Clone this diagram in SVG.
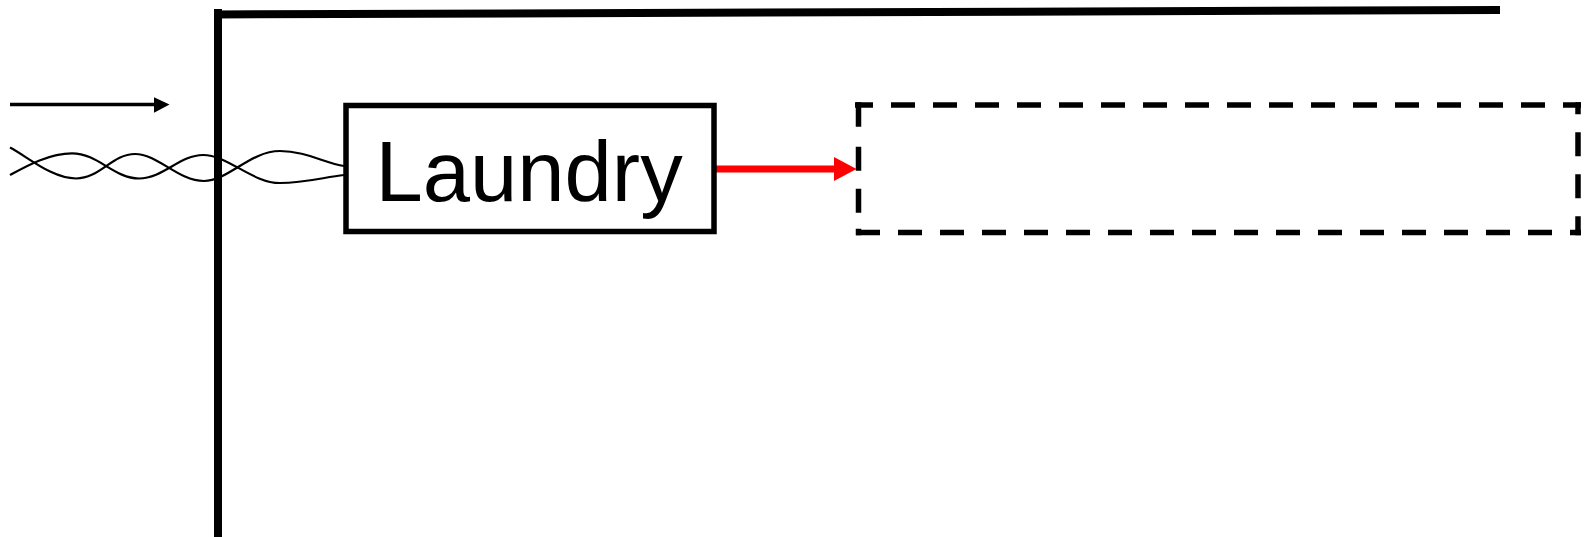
<svg xmlns="http://www.w3.org/2000/svg" width="1585" height="537" viewBox="0 0 1585 537">
  <style>
    .wall { stroke: #000; stroke-width: 8; fill: none; }
    .box { fill: #fff; stroke: #000; stroke-width: 5.5; }
    .dash { stroke: #000; stroke-width: 5.5; fill: none; stroke-linecap: butt; }
    .wave { stroke: #000; stroke-width: 2.2; fill: none; }
    .label { font-family: "Liberation Sans", Arial, sans-serif; font-size: 85px; fill: #000; }
  </style>
  <rect width="1585" height="537" fill="#fff"/>

  <!-- building outline: left wall and roof line -->
  <g id="outline">
    <line class="wall" x1="218" y1="9" x2="218" y2="537"/>
    <line class="wall" x1="214" y1="14.5" x2="1500" y2="10"/>
  </g>

  <g id="connectors">
    <!-- incoming flow arrow -->
    <line x1="10" y1="104.5" x2="156" y2="104.5" stroke="#000" stroke-width="3.5"/>
    <polygon points="154,97.3 169.5,104.5 154,112.7" fill="#000"/>
    <!-- twisted pair feeding the laundry -->
    <path class="wave" d="M10,147.5 C28,157 52,178.5 76,178.5 C100,178.5 112,154 135,154 C158,154 178,181 204,181 C228,181 250,151 280,151 C305,151 325,163 344,166"/>
    <path class="wave" d="M10,175 C28,165 50,153.3 72,153.3 C98,153.3 114,178.5 139,178.5 C163,178.5 180,155 203,155 C228,155 252,183 280,183 C305,183 325,177 344,175"/>
    <!-- output arrow -->
    <line x1="714" y1="169" x2="836" y2="169" stroke="#f00" stroke-width="7"/>
    <polygon points="834,157 856.5,169 834,181" fill="#f00"/>
  </g>

  <g id="laundry">
    <rect class="box" x="346" y="105.5" width="368" height="126"/>
    <text class="label" x="375.5" y="201">Laundry</text>
  </g>

  <!-- empty dashed placeholder box -->
  <g id="placeholder">
    <line class="dash" x1="855" y1="105" x2="1581" y2="105" stroke-dasharray="24 18" stroke-dashoffset="6"/>
    <line class="dash" x1="1578" y1="102.3" x2="1578" y2="235.3" stroke-dasharray="24 18" stroke-dashoffset="12"/>
    <line class="dash" x1="856" y1="232.5" x2="1581" y2="232.5" stroke-dasharray="24 18"/>
    <line class="dash" x1="858.5" y1="102.3" x2="858.5" y2="235.3" stroke-dasharray="24.5 20 24 18 24 16 10"/>
  </g>
</svg>
